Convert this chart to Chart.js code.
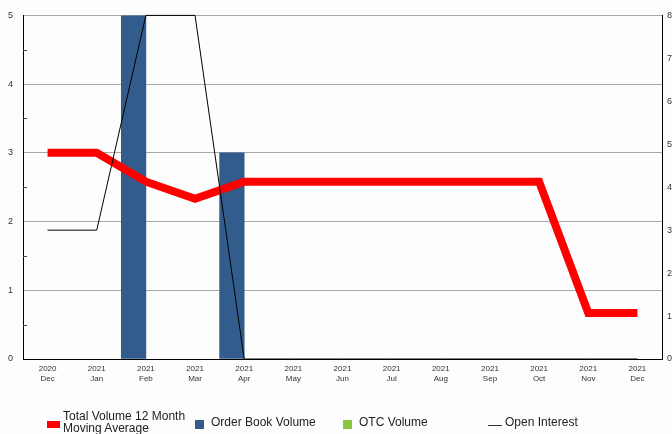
<!DOCTYPE html>
<html>
<head>
<meta charset="utf-8">
<script src="https://cdn.jsdelivr.net/npm/chart.js@4.4.1/dist/chart.umd.min.js"></script>
<style>
  html, body { margin: 0; padding: 0; background: #fdfdfd; overflow: hidden; }
  #wrap { position: relative; width: 672px; height: 434px; }
  #legend { position: absolute; left: 0; top: 0; width: 672px; height: 434px; pointer-events: none;
            font-family: "Liberation Sans", Arial, sans-serif; font-size: 12px; color: #222; }
  .lg { position: absolute; white-space: nowrap; line-height: 12px; }
  .sw { position: absolute; }
</style>
</head>
<body>
<div id="wrap">
  <canvas id="c"></canvas>
  <div id="legend">
    <div class="sw" style="left:47px; top:421px; width:13px; height:7px; background:#ff0000;"></div>
    <div class="lg" style="left:63px; top:410px;">Total Volume 12 Month<br>Moving Average</div>
    <div class="sw" style="left:195px; top:420px; width:9px; height:9px; background:#325c8c;"></div>
    <div class="lg" style="left:211px; top:416px;">Order Book Volume</div>
    <div class="sw" style="left:343px; top:420px; width:9px; height:9px; background:#8cc63f;"></div>
    <div class="lg" style="left:359px; top:416px;">OTC Volume</div>
    <div class="sw" style="left:488px; top:425px; width:14px; height:1px; background:#333;"></div>
    <div class="lg" style="left:505px; top:416px;">Open Interest</div>
  </div>
</div>
<script>
const categories = [
  ["2020","Dec"],["2021","Jan"],["2021","Feb"],["2021","Mar"],["2021","Apr"],["2021","May"],
  ["2021","Jun"],["2021","Jul"],["2021","Aug"],["2021","Sep"],["2021","Oct"],["2021","Nov"],["2021","Dec"]
];
const movingAverage = [3, 3, 2.58, 2.33, 2.58, 2.58, 2.58, 2.58, 2.58, 2.58, 2.58, 0.67, 0.67];
const orderBookVolume = [0, 0, 5, 0, 3, 0, 0, 0, 0, 0, 0, 0, 0];
const otcVolume = [0, 0, 0, 0, 0, 0, 0, 0, 0, 0, 0, 0, 0];
const openInterest = [3, 3, 8, 8, 0, 0, 0, 0, 0, 0, 0, 0, 0];
const leftTicks = [0, 1, 2, 3, 4, 5];
const rightTicks = [0, 1, 2, 3, 4, 5, 6, 7, 8];

const FONT = "'Liberation Sans', Arial, sans-serif";

const minorTicks = {
  id: 'minorTicks',
  beforeDatasetsDraw(chart) {
    const s = chart.scales.y;
    const ctx = chart.ctx;
    ctx.save();
    ctx.strokeStyle = '#444';
    ctx.lineWidth = 1;
    for (let v = 0.5; v < 5; v += 1) {
      const y = Math.round(s.getPixelForValue(v)) + 0.5;
      ctx.beginPath();
      ctx.moveTo(chart.chartArea.left, y);
      ctx.lineTo(chart.chartArea.left + 4, y);
      ctx.stroke();
    }
    ctx.restore();
  }
};

const hideZero = color => ctx => (ctx.raw === 0 ? 'rgba(0,0,0,0)' : color);

new Chart(document.getElementById('c'), {
  type: 'bar',
  data: {
    labels: categories,
    datasets: [
      { type: 'line', label: 'Open Interest', data: openInterest, yAxisID: 'y1',
        borderColor: '#000', borderWidth: 1, pointRadius: 0, tension: 0, order: 0, clip: false },
      { type: 'line', label: 'Total Volume 12 Month Moving Average', data: movingAverage, yAxisID: 'y',
        borderColor: '#ff0000', borderWidth: 8, pointRadius: 0, tension: 0, order: 1,
        borderCapStyle: 'butt', borderJoinStyle: 'miter' },
      { type: 'bar', label: 'Order Book Volume', data: orderBookVolume, yAxisID: 'y',
        backgroundColor: hideZero('#325c8c'), borderWidth: 0, order: 2,
        categoryPercentage: 1, barPercentage: 1 },
      { type: 'bar', label: 'OTC Volume', data: otcVolume, yAxisID: 'y',
        backgroundColor: hideZero('#8cc63f'), borderWidth: 0, order: 3,
        categoryPercentage: 1, barPercentage: 1 }
    ]
  },
  options: {
    responsive: true,
    maintainAspectRatio: false,
    animation: false,
    layout: { padding: { top: 14, bottom: 45, left: 0, right: 0 } },
    plugins: { legend: { display: false }, tooltip: { enabled: false } },
    scales: {
      x: {
        offset: true,
        grid: { display: false, drawTicks: false },
        border: { display: true, color: '#000', width: 1 },
        ticks: { color: '#333', font: { family: FONT, size: 8 }, padding: 5,
                 maxRotation: 0, autoSkip: false },
        afterFit(scale) { scale.height = 30; }
      },
      y: {
        position: 'left',
        min: 0, max: 5,
        afterBuildTicks(scale) { scale.ticks = leftTicks.map(v => ({ value: v })); },
        grid: { color: ctx => (ctx.tick && ctx.tick.value === 0) ? 'rgba(0,0,0,0)' : '#a8a8a8',
                drawTicks: false, lineWidth: 1 },
        border: { display: true, color: '#000', width: 1 },
        ticks: { color: '#333', font: { family: FONT, size: 9 }, padding: 10 },
        afterFit(scale) { scale.width = 23; }
      },
      y1: {
        position: 'right',
        min: 0, max: 8,
        afterBuildTicks(scale) { scale.ticks = rightTicks.map(v => ({ value: v })); },
        grid: { display: false, drawTicks: false },
        border: { display: true, color: '#000', width: 1 },
        ticks: { color: '#333', font: { family: FONT, size: 9 }, padding: 5 },
        afterFit(scale) { scale.width = 10; }
      }
    }
  },
  plugins: [minorTicks]
});
</script>
</body>
</html>
